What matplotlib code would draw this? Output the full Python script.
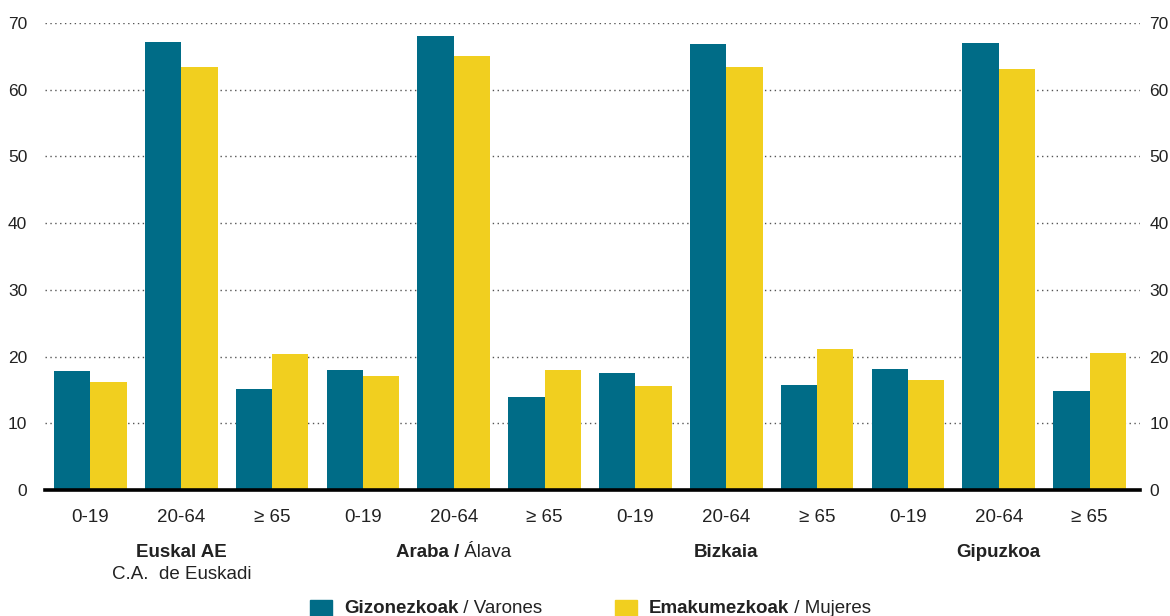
import numpy as np
import matplotlib.pyplot as plt
import matplotlib.transforms as mtransforms

plt.rcParams['font.family'] = ['Liberation Sans', 'DejaVu Sans']

# datos: % de poblacion por grupo de edad
ages = ['0-19', '20-64', '\u2265 65']
regions_bold = ['Euskal AE', 'Araba /', 'Bizkaia', 'Gipuzkoa']
regions_reg = ['C.A.  de Euskadi', ' \u00c1lava', '', '']
men = [17.8, 67.2, 15.1, 18.0, 68.1, 14.0, 17.6, 66.9, 15.8, 18.2, 67.0, 14.9]
women = [16.2, 63.4, 20.4, 17.1, 65.1, 18.0, 15.6, 63.4, 21.1, 16.5, 63.1, 20.5]
legend_bold = ['Gizonezkoak', 'Emakumezkoak']
legend_reg = [' / Varones', ' / Mujeres']

teal = '#006c87'
yellow = '#f1cf1f'
fs = 13.5

fig = plt.figure(figsize=(11.7, 6.16), dpi=100)
ax = fig.add_axes([0.0385, 0.2045, 0.9355, 0.7582])

x = np.arange(len(men))
w = 0.4
ax.bar(x - w / 2, men, w, color=teal, zorder=2)
ax.bar(x + w / 2, women, w, color=yellow, zorder=2)

ax.set_xlim(-0.5, 11.55)
ax.set_ylim(0, 70)
ax.set_yticks(range(0, 71, 10))
ax.yaxis.grid(True, linestyle=(0, (1, 2.5)), color='#555555', linewidth=1.0, zorder=0)
ax.tick_params(axis='y', length=0, labelsize=12.5, labelleft=True, labelright=True, pad=7)
shift = mtransforms.ScaledTranslation(-8 / 100, 0, fig.dpi_scale_trans)
for t in ax.yaxis.get_major_ticks():
    t.label1.set_transform(t.label1.get_transform() + shift)
    t.label1.set_color('#222222')
    t.label2.set_color('#222222')
ax.set_xticks(x)
ax.set_xticklabels(ages * 4, fontsize=fs, color='#222222')
ax.tick_params(axis='x', length=0, pad=14)
for s in ax.spines.values():
    s.set_visible(False)
ax.axhline(0, color='black', linewidth=2.6, zorder=3, clip_on=False)

fig.canvas.draw()
r = fig.canvas.get_renderer()

def two_part(xc, y, bold, reg, center=True):
    t1 = fig.text(0, y, bold, fontsize=fs, fontweight='bold', color='#222222', va='baseline')
    t2 = fig.text(0, y, reg, fontsize=fs, color='#222222', va='baseline')
    w1 = t1.get_window_extent(r).width / fig.bbox.width
    w2 = t2.get_window_extent(r).width / fig.bbox.width if reg else 0
    x0 = xc - (w1 + w2) / 2 if center else xc
    t1.set_x(x0)
    t2.set_x(x0 + w1)

for i, (b, g) in enumerate(zip(regions_bold, regions_reg)):
    xd = ax.transData.transform((3 * i + 1, 0))[0] / fig.bbox.width
    if i == 0:
        fig.text(xd, 1 - 557 / 616, b, fontsize=fs, fontweight='bold', color='#222222', ha='center', va='baseline')
        fig.text(xd, 1 - 579 / 616, g, fontsize=fs, color='#222222', ha='center', va='baseline')
    else:
        two_part(xd, 1 - 557 / 616, b, g)

# leyenda
for i, (lx, c) in enumerate([(310, teal), (615, yellow)]):
    fig.patches.append(plt.Rectangle((lx / 1170, 0), 22 / 1170, 16 / 616, color=c,
                                     transform=fig.transFigure, figure=fig))
    two_part((lx + 34) / 1170, 1 - 613 / 616, legend_bold[i], legend_reg[i], center=False)

fig.savefig('out.png', dpi=100)
